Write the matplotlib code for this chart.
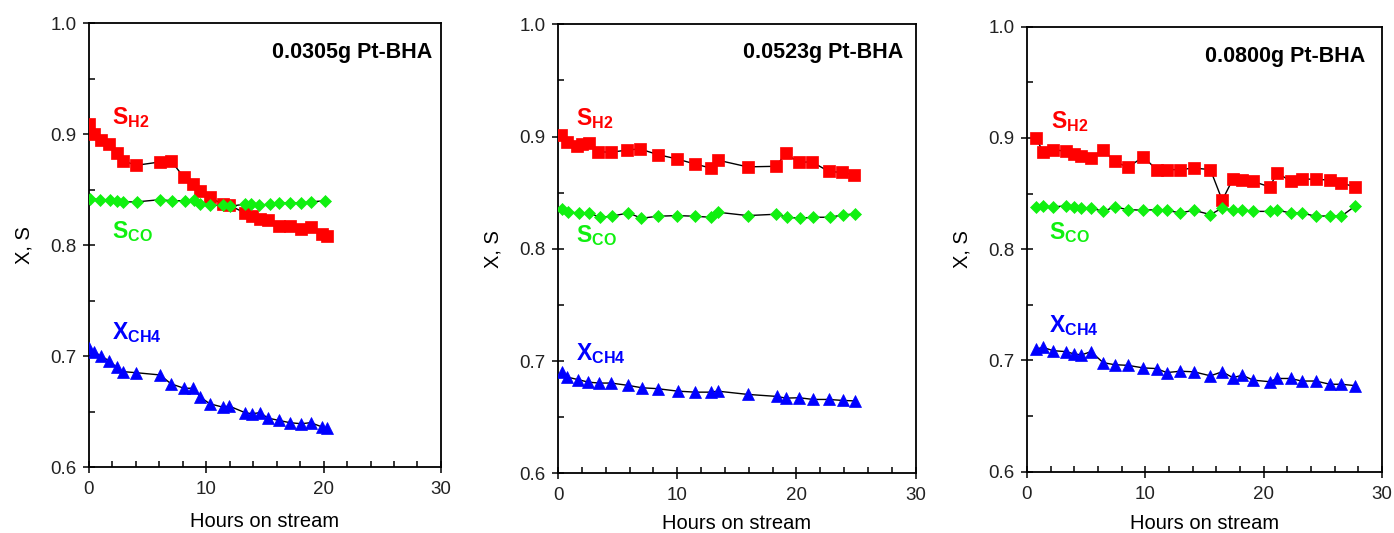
import matplotlib
matplotlib.use('Agg')
import matplotlib.pyplot as plt
from matplotlib.ticker import MultipleLocator

# Fonts: Arial-like text everywhere, also inside mathtext
plt.rcParams['font.family'] = ['Liberation Sans', 'DejaVu Sans']
plt.rcParams['mathtext.fontset'] = 'custom'
plt.rcParams['mathtext.rm'] = 'Liberation Sans'
plt.rcParams['mathtext.it'] = 'Liberation Sans'
plt.rcParams['mathtext.bf'] = 'Liberation Sans:bold'

# ---- 0.0305 g catalyst ----
t1 = [0.0, 0.45, 1.0, 1.7, 2.35, 2.9, 4.05, 6.05, 7.0, 8.1, 8.9, 9.5, 10.3,
      11.4, 11.95, 13.3, 13.9, 14.55, 15.3, 16.2, 17.1, 18.1, 18.9, 19.9, 20.3]
sh2_1 = [0.909, 0.900, 0.895, 0.891, 0.883, 0.876, 0.872, 0.875, 0.876, 0.861,
         0.855, 0.849, 0.843, 0.837, 0.836, 0.829, 0.826, 0.824, 0.823, 0.817,
         0.817, 0.815, 0.816, 0.810, 0.808]
xch4_1 = [0.707, 0.704, 0.700, 0.696, 0.690, 0.686, 0.685, 0.683, 0.675, 0.671,
          0.671, 0.663, 0.657, 0.654, 0.655, 0.649, 0.648, 0.649, 0.644, 0.642,
          0.640, 0.639, 0.640, 0.636, 0.635]
tco_1 = [0.1, 0.95, 1.8, 2.36, 2.9, 4.06, 6.05, 7.04, 8.17, 8.96, 9.45, 10.3,
         11.4, 12.0, 13.3, 13.8, 14.5, 15.4, 16.2, 17.1, 18.1, 18.9, 20.1]
sco_1 = [0.842, 0.841, 0.841, 0.840, 0.839, 0.839, 0.841, 0.840, 0.840, 0.841,
         0.837, 0.836, 0.836, 0.835, 0.837, 0.837, 0.836, 0.837, 0.838, 0.838,
         0.838, 0.839, 0.840]

# ---- 0.0523 g catalyst ----
th2_2 = [0.22, 0.78, 1.62, 2.04, 2.6, 3.39, 4.43, 5.82, 6.86, 8.35, 10.0, 11.5,
         12.8, 13.4, 15.9, 18.3, 19.1, 20.2, 21.3, 22.7, 23.8, 24.8]
sh2_2 = [0.9015, 0.895, 0.892, 0.893, 0.894, 0.8865, 0.886, 0.888, 0.889, 0.884,
         0.880, 0.8755, 0.872, 0.879, 0.873, 0.8735, 0.885, 0.877, 0.8775, 0.869,
         0.868, 0.866]
tco_2 = [0.31, 0.87, 1.76, 2.6, 3.5, 4.5, 5.9, 7.0, 8.35, 10.0, 11.5, 12.8, 13.4,
         15.9, 18.3, 19.2, 20.3, 21.4, 22.8, 23.9, 24.9]
sco_2 = [0.8356, 0.8326, 0.832, 0.832, 0.8281, 0.829, 0.832, 0.8272, 0.829,
         0.8296, 0.829, 0.8281, 0.8326, 0.8296, 0.8308, 0.8281, 0.8272, 0.8281,
         0.8281, 0.8302, 0.831]
tch4_2 = [0.36, 0.78, 1.71, 2.55, 3.45, 4.45, 5.9, 7.03, 8.35, 10.03, 11.5, 12.8,
          13.4, 15.9, 18.35, 19.1, 20.25, 21.4, 22.7, 23.9, 24.9]
xch4_2 = [0.6902, 0.6857, 0.6834, 0.6812, 0.6804, 0.6804, 0.6783, 0.6762, 0.6754,
          0.6732, 0.6723, 0.6723, 0.6732, 0.6703, 0.6685, 0.667, 0.6673, 0.6658,
          0.6658, 0.6649, 0.6645]

# ---- 0.0800 g catalyst ----
t3 = [0.79, 1.36, 2.2, 3.33, 3.96, 4.6, 5.42, 6.44, 7.4, 8.53, 9.83, 10.96, 11.8,
      12.95, 14.1, 15.5, 16.5, 17.4, 18.2, 19.1, 20.5, 21.15, 22.3, 23.2, 24.4,
      25.6, 26.55, 27.7]
sh2_3 = [0.900, 0.887, 0.8895, 0.888, 0.886, 0.884, 0.882, 0.8895, 0.879, 0.8736,
         0.883, 0.8715, 0.8715, 0.8715, 0.873, 0.8715, 0.844, 0.863, 0.862, 0.861,
         0.856, 0.8686, 0.861, 0.863, 0.863, 0.862, 0.8596, 0.856]
sco_3 = [0.838, 0.8385, 0.838, 0.839, 0.838, 0.837, 0.837, 0.834, 0.838, 0.8356,
         0.835, 0.8356, 0.835, 0.8326, 0.835, 0.8311, 0.837, 0.835, 0.8356, 0.834,
         0.834, 0.835, 0.8326, 0.8326, 0.8296, 0.830, 0.8296, 0.8385]
xch4_3 = [0.7103, 0.7118, 0.7088, 0.7079, 0.7059, 0.705, 0.7079, 0.698, 0.6962,
          0.6956, 0.6933, 0.6927, 0.6891, 0.6903, 0.6898, 0.6862, 0.6898, 0.6845,
          0.6868, 0.6823, 0.6809, 0.6838, 0.6838, 0.6815, 0.6815, 0.6786, 0.6786,
          0.6774]

titles = ['0.0305g Pt-BHA', '0.0523g Pt-BHA', '0.0800g Pt-BHA']

RED = '#ff0000'
GREEN = '#10f010'
BLUE = '#0000ff'

fig = plt.figure(figsize=(13.94, 5.33), dpi=100)

# axes rectangles and where the title / curve labels sit in each panel
panels = [
    dict(rect=[0.0638, 0.1238, 0.2525, 0.8325], title_xy=(0.974, 0.935),
         sh2=(t1, sh2_1), sco=(tco_1, sco_1), xch4=(t1, xch4_1),
         lab_h2=(2.0, 0.909), lab_co=(2.0, 0.806), lab_ch4=(2.0, 0.715),
         xpad=10),
    dict(rect=[0.4003, 0.1120, 0.2565, 0.8424], title_xy=(0.965, 0.938),
         sh2=(th2_2, sh2_2), sco=(tco_2, sco_2), xch4=(tch4_2, xch4_2),
         lab_h2=(1.55, 0.910), lab_co=(1.5, 0.806), lab_ch4=(1.55, 0.701),
         xpad=7),
    dict(rect=[0.7367, 0.1150, 0.2547, 0.8349], title_xy=(0.953, 0.932),
         sh2=(t3, sh2_3), sco=(t3, sco_3), xch4=(t3, xch4_3),
         lab_h2=(2.05, 0.909), lab_co=(1.85, 0.809), lab_ch4=(1.85, 0.7255),
         xpad=8),
]

for p, title in zip(panels, titles):
    ax = fig.add_axes(p['rect'])

    # black connecting line under coloured markers
    for (t, v), mk, col, ms in [(p['sh2'], 's', RED, 8.0),
                                (p['sco'], 'D', GREEN, 6.5),
                                (p['xch4'], '^', BLUE, 8.5)]:
        ax.plot(t, v, '-', color='black', lw=1.0, zorder=2)
        ax.plot(t, v, mk, color=col, ms=ms, mec=col, mew=0.5, zorder=3)

    ax.text(*p['lab_h2'], r'$\mathbf{S_{H2}}$', color=RED, fontsize=16.5,
            va='baseline', ha='left')
    ax.text(*p['lab_co'], r'$\mathbf{S_{CO}}$', color=GREEN, fontsize=16.5,
            va='baseline', ha='left')
    ax.text(*p['lab_ch4'], r'$\mathbf{X_{CH4}}$', color=BLUE, fontsize=16.5,
            va='baseline', ha='left')

    ax.text(*p['title_xy'], title, transform=ax.transAxes, ha='right',
            va='center', fontsize=15.5, fontweight='bold')

    ax.set_xlim(0, 30)
    ax.set_ylim(0.6, 1.0)
    ax.xaxis.set_major_locator(MultipleLocator(10))
    ax.xaxis.set_minor_locator(MultipleLocator(2))
    ax.yaxis.set_major_locator(MultipleLocator(0.1))
    ax.yaxis.set_minor_locator(MultipleLocator(0.05))
    ax.yaxis.set_major_formatter(plt.FormatStrFormatter('%.1f'))
    ax.tick_params(which='major', direction='inout', length=8, width=1.1,
                   labelsize=13.5, colors='black', labelcolor='#222222')
    ax.tick_params(axis='x', which='major', pad=6)
    ax.tick_params(axis='y', which='major', pad=5)
    ax.tick_params(which='minor', direction='in', length=4, width=1.1)
    for s in ax.spines.values():
        s.set_linewidth(1.3)

    ax.set_xlabel('Hours on stream', fontsize=14.5, labelpad=p['xpad'])
    ax.set_ylabel('X, S', fontsize=14.5, labelpad=12)

fig.savefig('out.png', dpi=100)
